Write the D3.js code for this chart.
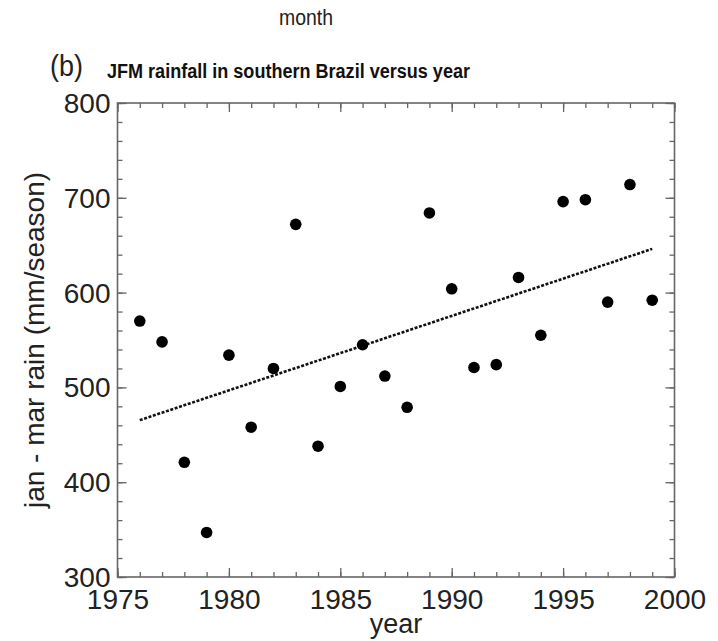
<!DOCTYPE html>
<html>
<head>
<meta charset="utf-8">
<script src="https://cdn.jsdelivr.net/npm/d3@7"></script>
<style>
  html, body { margin: 0; padding: 0; background: #fff; }
  svg { display: block; font-family: "Liberation Sans", Arial, Helvetica, sans-serif; }
</style>
</head>
<body>
<svg id="chart" width="718" height="641"></svg>
<script>
// JFM (January–March) seasonal rainfall, southern Brazil
const years = [1976, 1977, 1978, 1979, 1980, 1981, 1982, 1983, 1984, 1985, 1986, 1987,
               1988, 1989, 1990, 1991, 1992, 1993, 1994, 1995, 1996, 1997, 1998, 1999];
const rainfall = [570, 548, 421, 347, 534, 458, 520, 672, 438, 501, 545, 512,
                  479, 684, 604, 521, 524, 616, 555, 696, 698, 590, 714, 592];
const xMajorTicks = [1975, 1980, 1985, 1990, 1995, 2000];
const yMajorTicks = [300, 400, 500, 600, 700, 800];

const svg = d3.select("#chart");
const x0 = 117.5, x1 = 674.5, yTop = 103, yBot = 577;

const x = d3.scaleLinear().domain([1975, 2000]).range([x0, x1]);
const y = d3.scaleLinear().domain([300, 800]).range([yBot, yTop]);

const axisColor = "#666";
const minorX = d3.range(1975, 2001, 1);
const minorY = d3.range(300, 801, 20);

function styleAxis(g) {
  g.select(".domain").remove();
  g.selectAll(".tick line").attr("stroke", axisColor).attr("stroke-width", 1.3);
  g.selectAll(".tick text").attr("fill", "#222").attr("font-size", 28);
}

// bottom axis: minor + labelled major ticks, all pointing inward
svg.append("g").attr("transform", `translate(0,${yBot})`)
  .call(d3.axisBottom(x).tickValues(minorX).tickSize(-5).tickFormat(""))
  .call(styleAxis);
svg.append("g").attr("transform", `translate(0,${yBot})`)
  .call(d3.axisBottom(x).tickValues(xMajorTicks).tickSize(-9).tickPadding(3).tickFormat(d3.format("d")))
  .call(styleAxis)
  .call(g => g.selectAll(".tick text").attr("dy", null).attr("y", 32));

// top axis ticks
svg.append("g").attr("transform", `translate(0,${yTop})`)
  .call(d3.axisTop(x).tickValues(minorX).tickSize(-5).tickFormat(""))
  .call(styleAxis);
svg.append("g").attr("transform", `translate(0,${yTop})`)
  .call(d3.axisTop(x).tickValues(xMajorTicks).tickSize(-9).tickFormat(""))
  .call(styleAxis);

// left axis
svg.append("g").attr("transform", `translate(${x0},0)`)
  .call(d3.axisLeft(y).tickValues(minorY).tickSize(-5).tickFormat(""))
  .call(styleAxis);
svg.append("g").attr("transform", `translate(${x0},0)`)
  .call(d3.axisLeft(y).tickValues(yMajorTicks).tickSize(-9).tickFormat(d3.format("d")))
  .call(styleAxis)
  .call(g => g.selectAll(".tick text").attr("x", -7).attr("dy", "0.34em"));

// right axis ticks
svg.append("g").attr("transform", `translate(${x1},0)`)
  .call(d3.axisRight(y).tickValues(minorY).tickSize(-5).tickFormat(""))
  .call(styleAxis);
svg.append("g").attr("transform", `translate(${x1},0)`)
  .call(d3.axisRight(y).tickValues(yMajorTicks).tickSize(-9).tickFormat(""))
  .call(styleAxis);

// plot frame
svg.append("rect")
  .attr("x", x0).attr("y", yTop)
  .attr("width", x1 - x0).attr("height", yBot - yTop)
  .attr("fill", "none").attr("stroke", axisColor).attr("stroke-width", 1.6);

// least-squares trend of rainfall against year
const mx = d3.mean(years), my = d3.mean(rainfall);
const slope = d3.sum(years, (yr, i) => (yr - mx) * (rainfall[i] - my)) /
              d3.sum(years, yr => (yr - mx) ** 2);
const fit = yr => my + slope * (yr - mx);
const trendEnds = [years[0], years[years.length - 1]];

svg.append("path")
  .datum(trendEnds)
  .attr("d", d3.line().x(d => x(d)).y(d => y(fit(d))))
  .attr("fill", "none")
  .attr("stroke", "#111")
  .attr("stroke-width", 2.6)
  .attr("stroke-dasharray", "3,1.6");

// observations
svg.append("g").selectAll("circle")
  .data(years)
  .join("circle")
  .attr("cx", d => x(d))
  .attr("cy", (d, i) => y(rainfall[i]))
  .attr("r", 5.8)
  .attr("fill", "#000");

// text
svg.append("text")
  .attr("x", 279).attr("y", 25)
  .attr("font-size", 22).attr("fill", "#222")
  .attr("textLength", 54).attr("lengthAdjust", "spacingAndGlyphs")
  .text("month");

svg.append("text")
  .attr("x", 50).attr("y", 76)
  .attr("font-size", 30).attr("fill", "#222")
  .attr("textLength", 33).attr("lengthAdjust", "spacingAndGlyphs")
  .text("(b)");

svg.append("text")
  .attr("x", 107).attr("y", 78)
  .attr("font-size", 19.5).attr("font-weight", "bold").attr("fill", "#111")
  .attr("textLength", 363).attr("lengthAdjust", "spacingAndGlyphs")
  .text("JFM rainfall in southern Brazil versus year");

svg.append("text")
  .attr("x", (x0 + x1) / 2).attr("y", 633)
  .attr("text-anchor", "middle")
  .attr("font-size", 27).attr("fill", "#222")
  .text("year");

svg.append("text")
  .attr("transform", `translate(44,${(yTop + yBot) / 2}) rotate(-90)`)
  .attr("text-anchor", "middle")
  .attr("font-size", 28).attr("fill", "#222")
  .text("jan - mar rain (mm/season)");
</script>
</body>
</html>
